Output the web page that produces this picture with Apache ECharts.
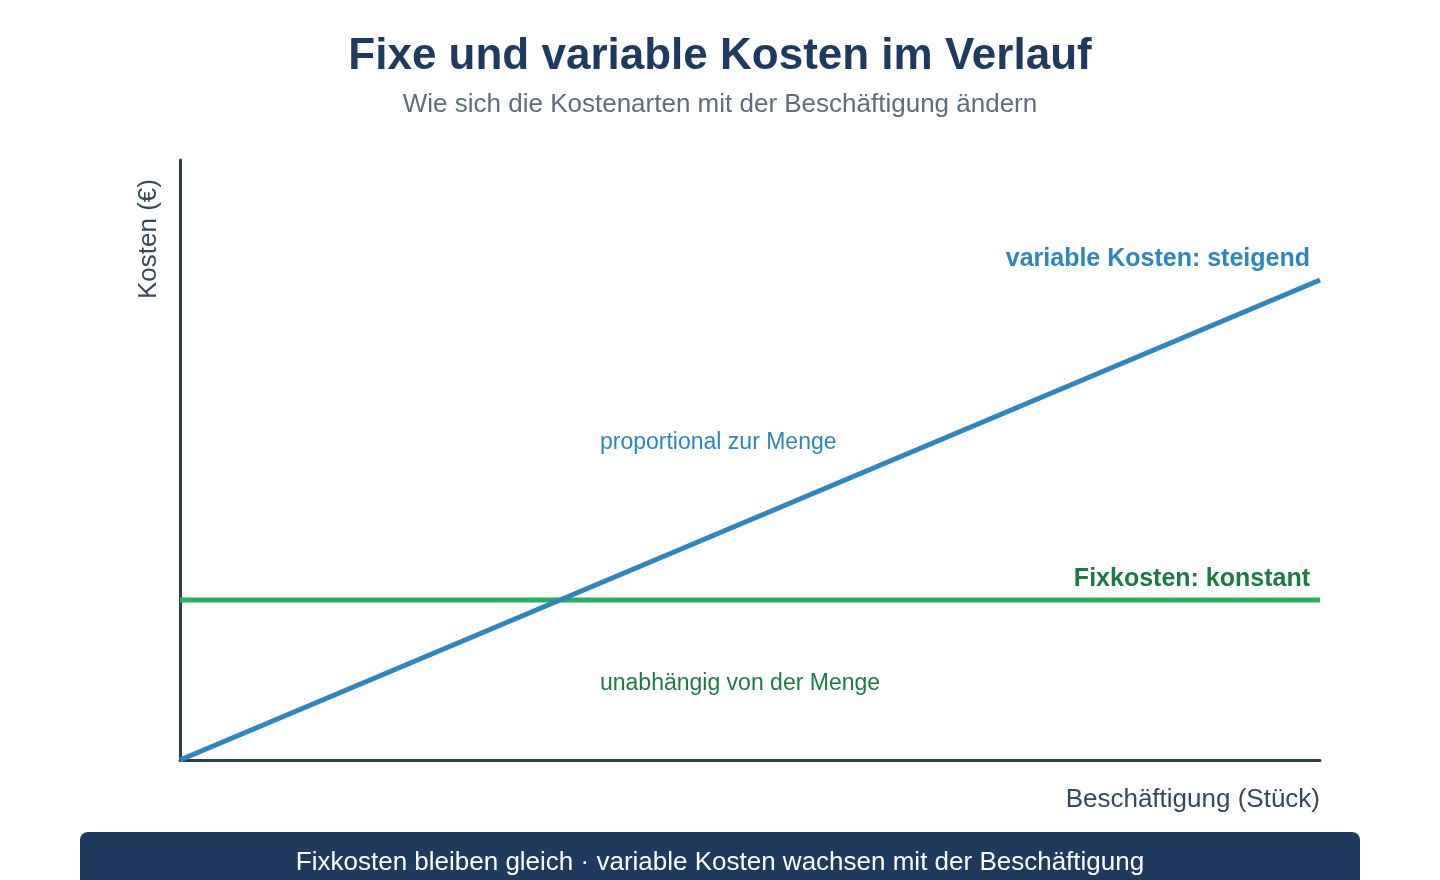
<!DOCTYPE html>
<html>
<head>
<meta charset="utf-8">
<title>Fixe und variable Kosten</title>
<script src="https://cdn.jsdelivr.net/npm/echarts@6/dist/echarts.min.js"></script>
<style>
  html, body { margin: 0; padding: 0; background: #fff; }
  #chart { width: 1440px; height: 880px; }
</style>
</head>
<body>
<div id="chart"></div>
<script>
// Beschäftigung (Stück) und Kosten (€)
var menge = [0, 100];
var fixkosten = [40, 40];
var variableKosten = [0, 120];

var fontFamily = '"Liberation Sans", Arial, sans-serif';
var blau = '#2e86c1';
var gruen = '#27ae60';
var dunkelgruen = '#1e7a45';
var navy = '#1f3a5f';
var achse = '#2c3e50';

var myChart = echarts.init(document.getElementById('chart'));

var option = {
  backgroundColor: '#fff',
  animation: false,
  textStyle: { fontFamily: fontFamily },
  title: {
    text: 'Fixe und variable Kosten im Verlauf',
    subtext: 'Wie sich die Kostenarten mit der Beschäftigung ändern',
    left: 'center',
    top: 30,
    itemGap: 13,
    textStyle: { fontSize: 44, fontWeight: 'bold', color: navy, fontFamily: fontFamily },
    subtextStyle: { fontSize: 26, color: '#5d6d7e', fontFamily: fontFamily }
  },
  grid: { left: 180, right: 120, top: 160, bottom: 120 },
  xAxis: {
    type: 'value',
    min: 0,
    max: 100,
    axisLine: { show: true, lineStyle: { color: achse, width: 3 } },
    axisTick: { show: false },
    axisLabel: { show: false },
    splitLine: { show: false }
  },
  yAxis: {
    type: 'value',
    min: 0,
    max: 150,
    axisLine: { show: true, lineStyle: { color: achse, width: 3 } },
    axisTick: { show: false },
    axisLabel: { show: false },
    splitLine: { show: false }
  },
  series: [
    {
      name: 'Fixkosten',
      type: 'line',
      data: menge.map(function (m, i) { return [m, fixkosten[i]]; }),
      showSymbol: false,
      lineStyle: { color: gruen, width: 5 }
    },
    {
      name: 'variable Kosten',
      type: 'line',
      data: menge.map(function (m, i) { return [m, variableKosten[i]]; }),
      showSymbol: false,
      lineStyle: { color: blau, width: 5 }
    }
  ],
  graphic: [
    // Achsenbeschriftungen
    {
      type: 'text', x: 149, y: 239, rotation: Math.PI / 2,
      style: { text: 'Kosten (€)', fontSize: 26, fill: '#34495e', align: 'center', verticalAlign: 'middle', fontFamily: fontFamily }
    },
    {
      type: 'text', x: 1320, y: 800,
      style: { text: 'Beschäftigung (Stück)', fontSize: 26, fill: '#34495e', align: 'right', verticalAlign: 'middle', fontFamily: fontFamily }
    },
    // Linienbeschriftungen
    {
      type: 'text', x: 1310, y: 259,
      style: { text: 'variable Kosten: steigend', fontSize: 25, fontWeight: 'bold', fill: blau, align: 'right', verticalAlign: 'middle', fontFamily: fontFamily }
    },
    {
      type: 'text', x: 1310, y: 579,
      style: { text: 'Fixkosten: konstant', fontSize: 25, fontWeight: 'bold', fill: dunkelgruen, align: 'right', verticalAlign: 'middle', fontFamily: fontFamily }
    },
    {
      type: 'text', x: 600, y: 443,
      style: { text: 'proportional zur Menge', fontSize: 23, fill: blau, align: 'left', verticalAlign: 'middle', fontFamily: fontFamily }
    },
    {
      type: 'text', x: 600, y: 684,
      style: { text: 'unabhängig von der Menge', fontSize: 23, fill: dunkelgruen, align: 'left', verticalAlign: 'middle', fontFamily: fontFamily }
    },
    // Fußzeile
    {
      type: 'rect', shape: { x: 80, y: 832, width: 1280, height: 70, r: 8 },
      style: { fill: navy }
    },
    {
      type: 'text', x: 720, y: 863,
      style: { text: 'Fixkosten bleiben gleich · variable Kosten wachsen mit der Beschäftigung', fontSize: 26, fill: '#fff', align: 'center', verticalAlign: 'middle', fontFamily: fontFamily }
    }
  ]
};

myChart.setOption(option);
</script>
</body>
</html>
